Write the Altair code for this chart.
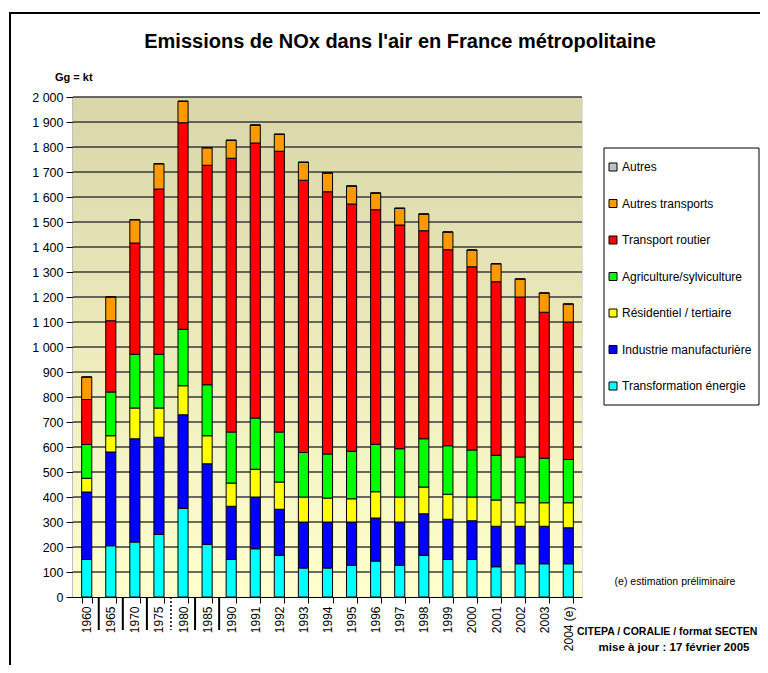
import altair as alt
import pandas as pd

years = ["1960", "1965", "1970", "1975", "1980", "1985", "1990", "1991", "1992", "1993",
         "1994", "1995", "1996", "1997", "1998", "1999", "2000", "2001", "2002", "2003", "2004 (e)"]

transformation_energie = [150, 205, 220, 250, 355, 211, 150, 193, 167, 116, 116, 127, 144, 127, 167, 150, 150, 121, 133, 133, 133]
industrie_manuf = [270, 375, 413, 389, 374, 322, 213, 207, 184, 184, 184, 173, 172, 173, 166, 161, 155, 162, 150, 150, 144]
residentiel_tertiaire = [55, 65, 123, 117, 116, 112, 93, 111, 109, 100, 96, 93, 105, 100, 107, 100, 95, 105, 94, 94, 100]
agriculture_sylv = [135, 175, 215, 215, 226, 204, 204, 205, 200, 178, 176, 190, 190, 193, 193, 194, 188, 179, 183, 178, 173]
transport_routier = [180, 285, 445, 661, 826, 878, 1095, 1100, 1123, 1089, 1049, 989, 938, 895, 832, 784, 733, 694, 640, 584, 550]
autres_transports = [90, 95, 93, 101, 86, 70, 72, 72, 68, 72, 75, 72, 67, 67, 67, 71, 67, 72, 72, 77, 72]
autres = [0] * 21

sectors = ["Transformation énergie", "Industrie manufacturière", "Résidentiel / tertiaire",
           "Agriculture/sylviculture", "Transport routier", "Autres transports", "Autres"]
series = [transformation_energie, industrie_manuf, residentiel_tertiaire, agriculture_sylv,
          transport_routier, autres_transports, autres]
colors = ["#00FFFF", "#0000FF", "#FFFF00", "#00FF00", "#FF0000", "#FF9900", "#C0C0C0"]

y_ticks = list(range(0, 2001, 100))
separators = ["1965", "1970", "1975", "1985", "1990"]
dotted_sep = ["1980"]

rows = []
for si, (name, vals) in enumerate(zip(sectors, series)):
    for y, v in zip(years, vals):
        rows.append({"year": y, "sector": name, "value": v, "idx": si})
df = pd.DataFrame(rows)

W, H = 509, 500
FONT = "Liberation Sans"

xscale = alt.Scale(domain=years, paddingInner=0.58, paddingOuter=0.36)
yscale = alt.Scale(domain=[0, 2000], nice=False)

yaxis = alt.Axis(title=None, values=y_ticks, grid=False, labelFontSize=12.5,
                 labelFont=FONT, labelColor="#000000", tickSize=7, labelPadding=3,
                 tickColor="#000000", domainColor="#000000", domainWidth=1.5,
                 labelExpr="replace(format(datum.value, ','), ',', ' ')")

bg = alt.Chart(alt.Data(values=[{}])).mark_rect(
    color=alt.LinearGradient(
        gradient="linear",
        stops=[alt.GradientStop(color="#FFFFCE", offset=0),
               alt.GradientStop(color="#D9D6A9", offset=1)],
        x1=0, x2=0, y1=1, y2=0,
    )
).encode(x=alt.value(0), x2=alt.value(W), y=alt.value(0), y2=alt.value(H))

grid = alt.Chart(pd.DataFrame({"v": y_ticks[1:]})).mark_rule(
    color="#3a3a3a", strokeWidth=1.5
).encode(y=alt.Y("v:Q", scale=yscale, axis=yaxis))

bars = alt.Chart(df).mark_bar(stroke="#000000", strokeWidth=1).encode(
    x=alt.X("year:N", scale=xscale, sort=years,
            axis=alt.Axis(title=None, labelAngle=-90, labelFontSize=12, labelFont=FONT,
                          labelColor="#000000", tickBand="extent", tickSize=6,
                          tickColor="#000000", domainColor="#000000", labelPadding=3)),
    y=alt.Y("value:Q", stack="zero", scale=yscale, axis=yaxis),
    color=alt.Color("sector:N",
                    scale=alt.Scale(domain=sectors[::-1], range=colors[::-1]),
                    legend=alt.Legend(title=None, orient="none", legendX=534, legendY=64,
                                      direction="vertical", padding=0,
                                      symbolType="square", symbolSize=64,
                                      symbolStrokeColor="#000000", symbolStrokeWidth=1,
                                      labelFontSize=12, labelFont=FONT, labelColor="#000000",
                                      labelOffset=3, rowPadding=24.5, labelLimit=200)),
    order=alt.Order("idx:Q", sort="ascending"),
)

seps = alt.Chart(pd.DataFrame({"year": separators})).mark_rule(
    color="#000000", strokeWidth=2
).encode(x=alt.X("year:N", scale=xscale), xOffset=alt.value(-7),
         y=alt.value(H), y2=alt.value(H + 33))

dots = alt.Chart(pd.DataFrame({"year": dotted_sep})).mark_rule(
    color="#000000", strokeWidth=1.5, strokeDash=[2, 2]
).encode(x=alt.X("year:N", scale=xscale), xOffset=alt.value(-7),
         y=alt.value(H), y2=alt.value(H + 33))

texts_df = pd.DataFrame([
    {"t": "Emissions de NOx dans l'air en France métropolitaine", "x": 327, "y": -55, "s": 20, "w": "bold", "a": "center"},
    {"t": "Gg = kt", "x": -18, "y": -19, "s": 11, "w": "bold", "a": "left"},
    {"t": "(e) estimation préliminaire", "x": 602, "y": 485, "s": 10.5, "w": "normal", "a": "center"},
    {"t": "CITEPA / CORALIE / format SECTEN", "x": 504, "y": 535, "s": 10.5, "w": "bold", "a": "left"},
    {"t": "mise à jour : 17 février 2005", "x": 601, "y": 551, "s": 11.5, "w": "bold", "a": "center"},
])

def txt(row):
    return alt.Chart(alt.Data(values=[{"t": row["t"]}])).mark_text(
        font=FONT, fontSize=row["s"], fontWeight=row["w"], align=row["a"],
        baseline="middle", color="#000000"
    ).encode(text="t:N", x=alt.value(row["x"]), y=alt.value(row["y"]))

texts = [txt(r) for _, r in texts_df.iterrows()]

legend_box = alt.Chart(alt.Data(values=[{"b": 1}])).mark_rect(
    fill="#FFFFFF", stroke="#000000", strokeWidth=1
).encode(x=alt.value(531), x2=alt.value(686), y=alt.value(51), y2=alt.value(308))

frame_left = alt.Chart(alt.Data(values=[{"f": 1}])).mark_rule(
    color="#000000", strokeWidth=2
).encode(x=alt.value(-63), y=alt.value(-84), y2=alt.value(600))

frame_top = alt.Chart(alt.Data(values=[{"f": 2}])).mark_rule(
    color="#000000", strokeWidth=2
).encode(x=alt.value(-64), x2=alt.value(700), y=alt.value(-84))

chart = alt.layer(bg, grid, bars, seps, dots, legend_box, *texts, frame_left, frame_top).properties(
    width=W, height=H,
    autosize=alt.AutoSizeParams(type="none"),
    padding={"left": 65, "top": 89, "right": 178, "bottom": 68},
).configure_view(stroke=None).configure(background="#FFFFFF")

chart.save("out.html", embed_options={"renderer": "svg", "actions": False})
